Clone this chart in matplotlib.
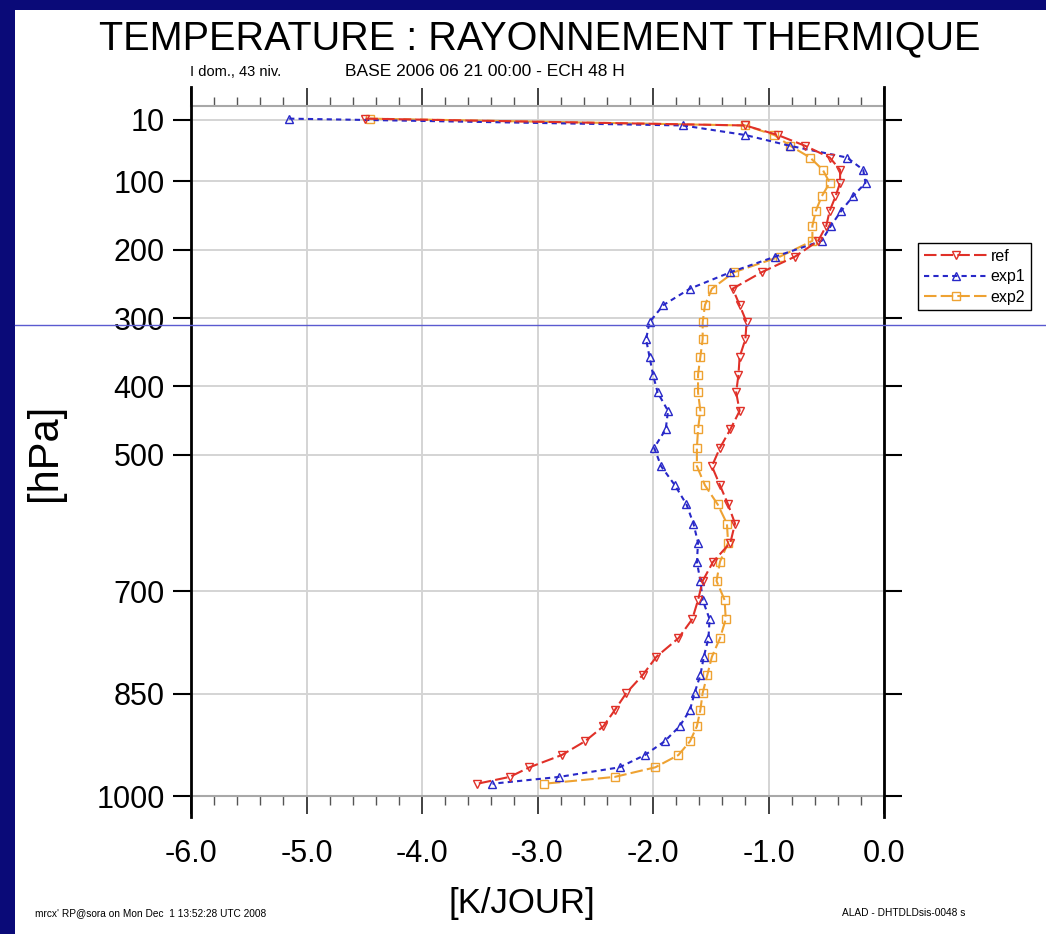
import numpy as np
import matplotlib
matplotlib.use("Agg")
import matplotlib.pyplot as plt
from matplotlib.lines import Line2D
from matplotlib.patches import Rectangle
from matplotlib.ticker import MultipleLocator

# niveaux modele (hPa) et taux de chauffage par rayonnement thermique (K/jour)
niveaux = [8, 18, 32, 48, 65, 83, 102, 122, 143, 165, 187, 210, 233, 257, 281,
           306, 331, 357, 383, 409, 436, 463, 490, 517, 545, 573, 601, 629,
           657, 685, 713, 741, 769, 796, 823, 849, 874, 898, 920, 940, 958,
           972, 982]

ref = [-4.49, -1.20, -0.92, -0.68, -0.47, -0.38, -0.38, -0.42, -0.47, -0.50,
       -0.57, -0.77, -1.06, -1.31, -1.25, -1.19, -1.20, -1.25, -1.26, -1.28,
       -1.25, -1.33, -1.42, -1.49, -1.42, -1.35, -1.29, -1.33, -1.48, -1.57,
       -1.61, -1.66, -1.78, -1.97, -2.09, -2.23, -2.33, -2.43, -2.59, -2.79,
       -3.07, -3.24, -3.52]

exp1 = [-5.15, -1.74, -1.20, -0.81, -0.32, -0.18, -0.16, -0.27, -0.37, -0.46,
        -0.54, -0.94, -1.33, -1.68, -1.91, -2.03, -2.06, -2.03, -2.00, -1.96,
        -1.87, -1.89, -1.99, -1.93, -1.81, -1.71, -1.65, -1.61, -1.62, -1.59,
        -1.57, -1.51, -1.52, -1.56, -1.59, -1.64, -1.68, -1.77, -1.90, -2.07,
        -2.29, -2.81, -3.39]

exp2 = [-4.45, -1.20, -0.95, -0.81, -0.64, -0.53, -0.47, -0.54, -0.59, -0.62,
        -0.62, -0.90, -1.30, -1.49, -1.55, -1.57, -1.57, -1.59, -1.61, -1.61,
        -1.59, -1.61, -1.62, -1.62, -1.55, -1.44, -1.36, -1.35, -1.42, -1.45,
        -1.38, -1.37, -1.42, -1.49, -1.53, -1.57, -1.59, -1.62, -1.68, -1.78,
        -1.98, -2.33, -2.94]

p_ticks = [10, 100, 200, 300, 400, 500, 700, 850, 1000]
x_ticks = [-6.0, -5.0, -4.0, -3.0, -2.0, -1.0, 0.0]

plt.rcParams["font.family"] = "Liberation Sans"

W, H = 1046, 934
fig = plt.figure(figsize=(W / 100, H / 100), dpi=100)
fig.patch.set_facecolor("#0a0a78")
fig.add_artist(Rectangle((15 / W, 0), 1 - 15 / W, 1 - 10 / H,
                         transform=fig.transFigure, facecolor="white",
                         edgecolor="none", zorder=-5))

ax = fig.add_axes([191 / W, 1 - 796 / H, 693 / W, 690 / H])
ax.set_facecolor("white")

style = dict(lw=1.5, ms=5.2, mfc="none", mew=1.0)
l2, = ax.plot(exp2, niveaux, color="#eea232", dashes=(6, 2), marker="s",
              label="exp2", zorder=3, **style)
l1, = ax.plot(exp1, niveaux, color="#2828c8", dashes=(2.5, 2), marker="^",
              label="exp1", zorder=4, **style)
l0, = ax.plot(ref, niveaux, color="#e03028", dashes=(6, 2), marker="v",
              label="ref", zorder=5, **style)

ax.set_xlim(-6, 0)
ax.set_ylim(1000, -10.5)

ax.set_xticks(x_ticks)
ax.set_xticklabels([f"{v:.1f}" for v in x_ticks], fontsize=22)
ax.xaxis.set_minor_locator(MultipleLocator(0.2))
ax.tick_params(axis="x", which="major", direction="out", top=True,
               bottom=True, length=13, width=1.3, color="#333333", pad=18)
ax.tick_params(axis="x", which="minor", direction="out", top=True,
               bottom=True, length=6.5, width=1.0, color="#555555")

ax.set_yticks(p_ticks)
ax.set_yticklabels([str(p) for p in p_ticks], fontsize=22)
ax.tick_params(axis="y", which="major", direction="out", left=True,
               right=True, length=13, width=1.5, color="black", pad=6)

ax.grid(True, which="major", color="#d4d4d4", lw=1.4)
ax.set_axisbelow(True)

for cote in ["left", "right"]:
    ax.spines[cote].set_visible(False)
for cote in ["top", "bottom"]:
    ax.spines[cote].set_color("#a8a8a8")
    ax.spines[cote].set_linewidth(1.5)

# bords verticaux qui depassent du cadre
for xa in [0, 1]:
    ax.add_line(Line2D([xa, xa], [-0.0304, 1.0275], transform=ax.transAxes,
                       color="black", lw=2.0, clip_on=False, zorder=6))

fig.legend(handles=[l0, l1, l2], loc="upper left",
           bbox_to_anchor=(918 / W, 1 - 243 / H), fontsize=11.5,
           frameon=True, fancybox=False, edgecolor="black", framealpha=1,
           handlelength=4.0, handletextpad=0.2, borderpad=0.35,
           labelspacing=0.35, borderaxespad=0)

fig.text(540 / W, 1 - 38 / H, "TEMPERATURE : RAYONNEMENT THERMIQUE",
         ha="center", va="center", fontsize=28.5)
fig.text(190 / W, 1 - 72 / H, "I dom., 43 niv.", ha="left", va="center",
         fontsize=10.5)
fig.text(345 / W, 1 - 72 / H, "BASE 2006 06 21 00:00 - ECH 48 H",
         ha="left", va="center", fontsize=12.5)
fig.text(45 / W, 1 - 452 / H, "[hPa]", rotation=90, ha="center",
         va="center", fontsize=30)
fig.text(522 / W, 1 - 903 / H, "[K/JOUR]", ha="center", va="center",
         fontsize=25)
fig.text(35 / W, 1 - 913 / H, "mrcx' RP@sora on Mon Dec  1 13:52:28 UTC 2008",
         ha="left", va="center", fontsize=7.3)
fig.text(965 / W, 1 - 913 / H, "ALAD - DHTDLDsis-0048 s", ha="right",
         va="center", fontsize=7.3)

# trait bleu fin qui traverse la diapositive
fig.add_artist(Line2D([15 / W, 1], [1 - 325 / H, 1 - 325 / H],
                      transform=fig.transFigure, color="#5a5ad0", lw=1.0,
                      zorder=20))

fig.savefig("out.png", dpi=100, facecolor=fig.get_facecolor())
